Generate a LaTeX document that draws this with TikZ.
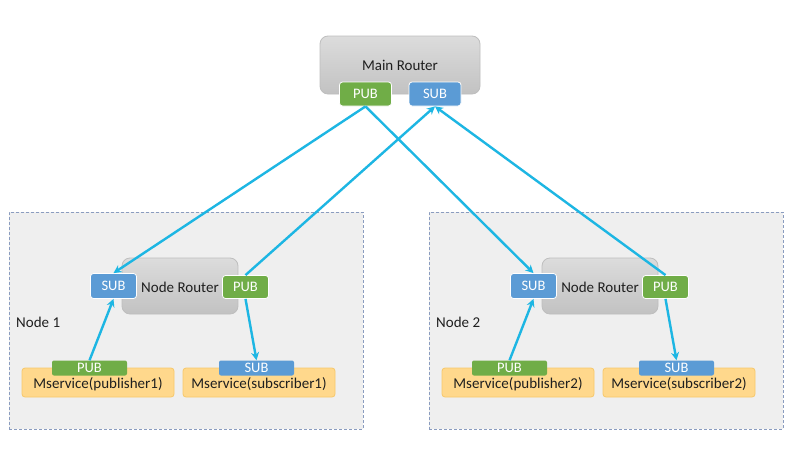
\documentclass[tikz,border=0pt]{standalone}
\usepackage{fontspec}
\setmainfont{Carlito}
\usetikzlibrary{arrows.meta}
\definecolor{pubgreen}{HTML}{70AD47}
\definecolor{subblue}{HTML}{5B9BD5}
\definecolor{arrowcyan}{HTML}{1DB6E3}
\definecolor{routertop}{HTML}{DCDCDC}
\definecolor{routerbot}{HTML}{C2C2C2}
\definecolor{routeredge}{HTML}{BEBEBE}
\definecolor{nodebg}{HTML}{EFEFEF}
\definecolor{nodeedge}{HTML}{8A9CBF}
\definecolor{msfill}{HTML}{FFD88C}
\definecolor{msedge}{HTML}{F7C86A}
\tikzset{
  router/.style={draw=routeredge, line width=0.8pt, rounded corners=8pt, top color=routertop, bottom color=routerbot, inner sep=0pt},
  pill/.style={rounded corners=3pt, draw=white, line width=0.8pt, text=white, inner sep=0pt, font=\fontsize{14.5}{14.5}\selectfont},
  pubpill/.style={pill, fill=pubgreen},
  subpill/.style={pill, fill=subblue},
  container/.style={draw=nodeedge, fill=nodebg, line width=0.8pt, dash pattern=on 3pt off 2pt},
  mservice/.style={draw=msedge, fill=msfill, line width=0.8pt, rounded corners=3pt, minimum width=152pt, minimum height=29pt, inner sep=0pt},
  lbl/.style={font=\fontsize{15}{15}\selectfont, text=black!88, inner sep=0pt},
  tab/.style={rounded corners=2pt, text=white, inner sep=0pt, minimum width=75pt, minimum height=15pt, font=\fontsize{14.5}{14.5}\selectfont},
  conn/.style={draw=arrowcyan, line width=2.4pt, -{Stealth[length=8pt,width=8pt]}}
}
\begin{document}
\begin{tikzpicture}[x=1pt,y=-1pt]
\useasboundingbox[fill=white] (0,0) rectangle (800,450);

% Containers
\node[container, minimum width=354pt, minimum height=217pt, inner sep=0pt] (node1box) at (186,320.5) {};
\node[container, minimum width=354pt, minimum height=217pt, inner sep=0pt] (node2box) at (606,320.5) {};

% Main router
\node[router, minimum width=160pt, minimum height=58pt] (main) at (400,65) {};
\node[lbl] (mainlbl) at (400,65) {Main Router};
\node[pubpill, minimum width=52pt, minimum height=24pt] (mpub) at (365.5,94) {PUB};
\node[subpill, minimum width=52pt, minimum height=24pt] (msub) at (435,94) {SUB};

% Node 1
\node[router, minimum width=116pt, minimum height=56pt] (nr1) at (180,286) {};
\node[lbl] (nr1lbl) at (180,287) {Node Router};
\node[subpill, minimum width=46pt, minimum height=25pt] (n1sub) at (113.5,286) {SUB};
\node[pubpill, minimum width=46pt, minimum height=23pt] (n1pub) at (245.5,287) {PUB};
\node[lbl, anchor=west] (n1lbl) at (16,322) {Node 1};
\node[mservice] (ms1p) at (98,382.5) {};
\node[lbl] (ms1plbl) at (98,384) {Mservice(publisher1)};
\node[tab, fill=pubgreen] (ms1ptab) at (89.5,368) {PUB};
\node[mservice] (ms1s) at (259,382.5) {};
\node[lbl] (ms1slbl) at (259,384) {Mservice(subscriber1)};
\node[tab, fill=subblue] (ms1stab) at (256.5,368) {SUB};

% Node 2
\node[router, minimum width=116pt, minimum height=56pt] (nr2) at (600,286) {};
\node[lbl] (nr2lbl) at (600,287) {Node Router};
\node[subpill, minimum width=46pt, minimum height=25pt] (n2sub) at (533.5,286) {SUB};
\node[pubpill, minimum width=46pt, minimum height=23pt] (n2pub) at (665.5,287) {PUB};
\node[lbl, anchor=west] (n2lbl) at (436,322) {Node 2};
\node[mservice] (ms2p) at (518,382.5) {};
\node[lbl] (ms2plbl) at (518,384) {Mservice(publisher2)};
\node[tab, fill=pubgreen] (ms2ptab) at (509.5,368) {PUB};
\node[mservice] (ms2s) at (679,382.5) {};
\node[lbl] (ms2slbl) at (679,384) {Mservice(subscriber2)};
\node[tab, fill=subblue] (ms2stab) at (676.5,368) {SUB};

% Connectors
\draw[conn] (mpub.south) -- (n1sub.north);
\draw[conn] (mpub.south) -- (n2sub.north);
\draw[conn] (n1pub.north) -- (msub.south);
\draw[conn] (n2pub.north) -- (msub.south);
\draw[conn] (ms1ptab.north) -- (n1sub.south);
\draw[conn] (n1pub.south) -- (ms1stab.north);
\draw[conn] (ms2ptab.north) -- (n2sub.south);
\draw[conn] (n2pub.south) -- (ms2stab.north);
\end{tikzpicture}
\end{document}
